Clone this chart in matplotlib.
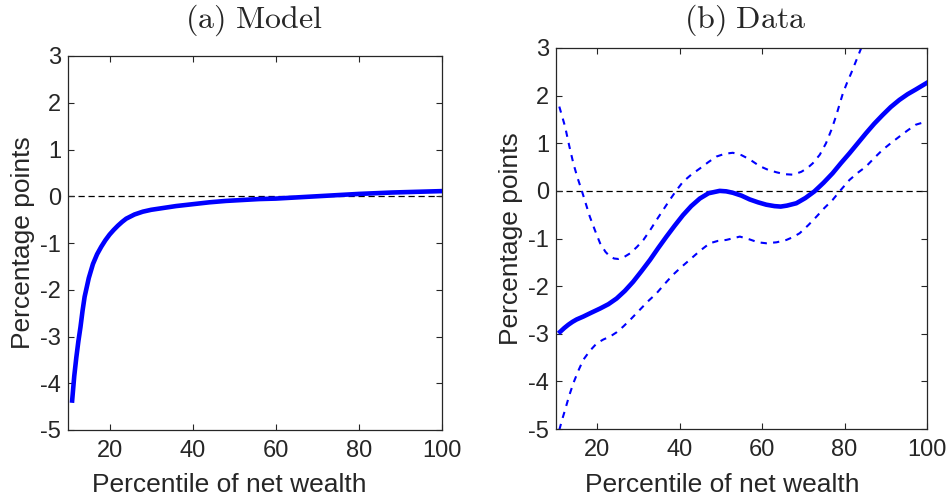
import matplotlib
matplotlib.use("Agg")
import matplotlib.pyplot as plt

plt.rcParams['font.family'] = ['Liberation Sans', 'DejaVu Sans']
plt.rcParams['mathtext.fontset'] = 'cm'
plt.rcParams['axes.unicode_minus'] = False

# Panel (a) Model
model_x = [11, 11.5, 12, 12.5, 13, 13.5, 14, 15, 16, 17, 18, 19, 20, 21, 22, 23, 24, 26, 28,
           30, 33, 36, 40, 44, 48, 52, 56, 60, 64, 68, 72, 76, 80, 84, 88, 92, 96, 100]
model_y = [-4.37, -3.85, -3.45, -3.10, -2.80, -2.45, -2.15, -1.75, -1.45, -1.24, -1.08, -0.94,
           -0.82, -0.72, -0.63, -0.55, -0.48, -0.39, -0.33, -0.29, -0.25, -0.21, -0.17, -0.13,
           -0.10, -0.08, -0.06, -0.05, -0.03, -0.01, 0.01, 0.03, 0.05, 0.065, 0.08, 0.09, 0.10, 0.11]

# Panel (b) Data: point estimate
data_x = [11, 12, 13, 14, 15, 16.6, 18.5, 20.7, 22.7, 24.7, 26.7, 28.7, 30.7, 32.8, 34.8, 36.8,
          38.8, 40.8, 42.8, 44.9, 47, 49.7, 51.3, 52.9, 55, 57, 59, 61, 63, 64.5, 66, 68.3, 70.5,
          72.7, 74.9, 77.1, 79.1, 81.2, 83.2, 85.2, 87.2, 89.2, 91.2, 93.3, 95.3, 97.3, 100]
data_y = [-2.96, -2.88, -2.81, -2.75, -2.70, -2.64, -2.56, -2.47, -2.38, -2.26, -2.10, -1.91,
          -1.69, -1.45, -1.20, -0.96, -0.73, -0.51, -0.32, -0.16, -0.05, 0.0, -0.01, -0.04,
          -0.10, -0.18, -0.24, -0.29, -0.32, -0.33, -0.31, -0.26, -0.15, -0.01, 0.17, 0.37,
          0.58, 0.79, 1.00, 1.21, 1.41, 1.59, 1.76, 1.91, 2.03, 2.13, 2.27]

# Upper confidence band
upper_x = [10.8, 11.5, 12.2, 13.2, 14.2, 15.2, 16.2, 17.2, 18.2, 19.5, 20.7, 22, 23.1, 24.1,
           25.1, 26.5, 28, 29.6, 31.2, 32.8, 34.4, 36, 37.6, 39.2, 40.8, 42.8, 44.9, 46.9, 48.9,
           51, 52.9, 55, 57, 59.4, 61.5, 63.5, 65.5, 67.5, 69.5, 71, 72.3, 74, 75.5, 76.8, 77.9,
           78.8, 79.6, 80.6, 81.6, 82.8, 84.0, 85.0]
upper_y = [1.77, 1.56, 1.35, 0.95, 0.58, 0.28, 0.02, -0.26, -0.54, -0.84, -1.10, -1.28, -1.38,
           -1.42, -1.43, -1.39, -1.31, -1.18, -1.03, -0.83, -0.61, -0.40, -0.19, 0.01, 0.19,
           0.34, 0.47, 0.60, 0.72, 0.78, 0.80, 0.75, 0.66, 0.52, 0.44, 0.39, 0.35, 0.34, 0.40,
           0.48, 0.58, 0.76, 1.0, 1.28, 1.56, 1.82, 2.05, 2.27, 2.47, 2.73, 2.99, 3.2]

# Lower confidence band
lower_x = [10.8, 11.5, 12.2, 13.2, 14.2, 15.4, 16.6, 18.2, 19.9, 21.5, 23.1, 24.7, 26.3, 28.3,
           30.3, 32.3, 34.4, 36.4, 38.4, 40.4, 42.4, 44.9, 47.3, 49.3, 51.3, 54.6, 57, 59, 61,
           63.5, 65.9, 67.5, 69.1, 71.2, 73.2, 75.1, 77.1, 79.1, 81.2, 83.2, 85.2, 87.2, 89.2,
           91.2, 93.3, 95.3, 97.3, 100]
lower_y = [-5.02, -4.80, -4.60, -4.30, -4.04, -3.78, -3.55, -3.36, -3.20, -3.12, -3.06, -2.97,
           -2.85, -2.68, -2.50, -2.32, -2.15, -1.95, -1.76, -1.60, -1.45, -1.26, -1.10, -1.05,
           -1.03, -0.96, -1.02, -1.08, -1.10, -1.08, -1.03, -0.97, -0.89, -0.72, -0.54, -0.36,
           -0.19, 0.02, 0.23, 0.38, 0.51, 0.69, 0.86, 1.00, 1.14, 1.27, 1.39, 1.46]

xticks = [20, 40, 60, 80, 100]
yticks = [-5, -4, -3, -2, -1, 0, 1, 2, 3]
titles = [r'$\mathrm{(a)\ Model}$', r'$\mathrm{(b)\ Data}$']
xlabel = 'Percentile of net wealth'
ylabel = 'Percentage points'

TXT = '#262626'
BLUE = '#0000ff'

fig = plt.figure(figsize=(9.46, 4.97), dpi=100)
ax1 = fig.add_axes([68/946, 1-430/497, (442-68)/946, (430-56)/497])
ax2 = fig.add_axes([556/946, 1-429/497, (927-556)/946, (429-48)/497])

def style(ax, xlab_center_px, x0, x1):
    ax.set_xlim(10, 100)
    ax.set_ylim(-5, 3)
    ax.set_xticks(xticks)
    ax.set_yticks(yticks)
    ax.tick_params(direction='in', top=True, right=True, length=4, width=0.8,
                   labelsize=17, colors=TXT)
    ax.tick_params(axis='x', pad=7)
    ax.tick_params(axis='y', pad=5)
    for s in ax.spines.values():
        s.set_color(TXT)
        s.set_linewidth(0.9)
    ax.set_xlabel(xlabel, fontsize=19, color=TXT)
    ax.set_ylabel(ylabel, fontsize=19, color=TXT, labelpad=4)
    ax.axhline(0, color='black', lw=0.9, ls=(0, (5, 3)), zorder=1)
    ax.xaxis.set_label_coords((xlab_center_px - x0) / (x1 - x0), -0.115)

style(ax1, 229, 68, 442)
ax1.plot(model_x, model_y, color=BLUE, lw=3.3, solid_joinstyle='round', zorder=3)

style(ax2, 722, 556, 927)
ax2.plot(data_x, data_y, color=BLUE, lw=3.3, solid_joinstyle='round', zorder=3)
ax2.plot(upper_x, upper_y, color=BLUE, lw=1.5, ls=(0, (3, 3)), zorder=2)
ax2.plot(lower_x, lower_y, color=BLUE, lw=1.5, ls=(0, (3, 3)), zorder=2)

fig.text(254/946, 1-3/497, titles[0], fontsize=23, ha='center', va='top', color=TXT)
fig.text(745/946, 1-3/497, titles[1], fontsize=23, ha='center', va='top', color=TXT)

fig.savefig('out.png', dpi=100)
